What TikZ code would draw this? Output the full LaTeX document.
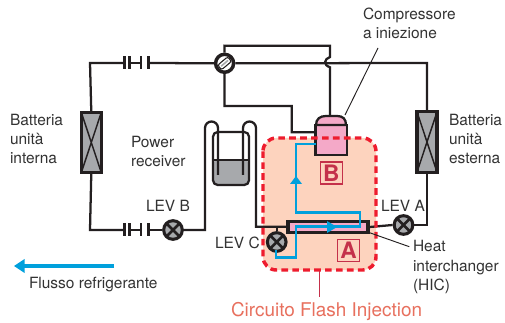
\documentclass[tikz,border=0pt]{standalone}
\usepackage{fontspec}
\setmainfont{TeX Gyre Heros}
\usetikzlibrary{arrows.meta,calc}
\definecolor{wire}{HTML}{231F20}
\definecolor{txt}{HTML}{333333}
\definecolor{pinkc}{HTML}{F4A9C8}
\definecolor{salmon}{HTML}{FDD3BE}
\definecolor{flow}{HTML}{00A0DC}
\definecolor{redd}{HTML}{EE1C2E}
\definecolor{boxred}{HTML}{C4304A}
\definecolor{cirt}{HTML}{E8705E}
\definecolor{greyc}{HTML}{A7A9AC}
\tikzset{
 wr/.style={draw=wire,line width=1.7pt,line join=miter},
 lbl/.style={text=txt,font=\fontsize{11.6}{12}\selectfont,anchor=base west,inner sep=0pt,outer sep=0pt},
 battery/.style={draw=wire,fill=greyc,line width=2.3pt,minimum width=15pt,minimum height=45.2pt,inner sep=0pt,outer sep=0pt},
 levv/.style={circle,draw=wire,fill=greyc,line width=2.3pt,minimum size=14pt,inner sep=0pt},
 bl/.style={draw=flow,line width=1.9pt,line join=miter},
 lettr/.style={draw=boxred,line width=1pt,text=boxred,minimum size=16.5pt,inner sep=0pt,font=\fontsize{17}{17}\selectfont\bfseries},
 thinl/.style={draw=wire,line width=0.7pt},
 capbar/.style={draw=wire,line width=2.2pt},
}
\newcommand{\levx}[1]{\draw[wire,line width=2pt] ($(#1)+(-4.6pt,-4.6pt)$) -- ($(#1)+(4.6pt,4.6pt)$) ($(#1)+(-4.6pt,4.6pt)$) -- ($(#1)+(4.6pt,-4.6pt)$);}
\newcommand{\capil}[3]{% x-centre y
 \draw[capbar] (#1-16.5,#2-6.5) -- (#1-16.5,#2+6.5) (#1-11.5,#2-6.5) -- (#1-11.5,#2+6.5) (#1,#2-6.5) -- (#1,#2+6.5) (#1+7.5,#2-6.5) -- (#1+7.5,#2+6.5) (#1-11.5,#2) -- (#1,#2);}
\begin{document}
\begin{tikzpicture}[x=0.75pt,y=-0.75pt]
\useasboundingbox (0,0) rectangle (505,323);
\fill[white] (0,0) rectangle (505,323);
% flash region
\fill[salmon,rounded corners=10pt] (263,138) rectangle (376,270);
% coordinates
\coordinate (tl) at (90,63); \coordinate (bl) at (90,230);
\coordinate (tr) at (427,63); \coordinate (br) at (427,225);
\node[battery] (batI) at (91.3,142.5) {};
\node[battery] (batE) at (427,142) {};
\draw[wire,line width=1.1pt] (batI.north west) -- (batI.south east) (batI.north east) -- (batI.south west);
\draw[wire,line width=1.1pt] (batE.north west) -- (batE.south east) (batE.north east) -- (batE.south west);
\node[levv] (levB) at (173,230) {}; \levx{levB}
\node[levv] (levA) at (403.5,225) {}; \levx{levA}
\node[levv] (levC) at (276.7,242) {}; \levx{levC}
\node[circle,draw=wire,fill=white,line width=2.6pt,minimum size=13.5pt,inner sep=0pt] (fw) at (224.6,63.3) {};
\draw[wire,line width=0.8pt,rotate around={40:(fw)},fill=white,rounded corners=1.5pt] ($(fw)+(-6.5,-3)$) rectangle ($(fw)+(6.5,3)$);
\fill[greyc,rotate around={40:(fw)}] ($(fw)+(-4.5,-0.8)$) rectangle ($(fw)+(4.5,0.8)$);
% receiver
\path[fill=greyc,rounded corners=3.5pt] (213,160) -- (249,160) -- (249,185) -- (213,185) -- cycle;
\draw[wr,rounded corners=3.5pt] (213,132) rectangle (249,185);
\draw[wr] (213,160) -- (249,160);
% compressor
\coordinate (compT) at (330,116);
\draw[wr,fill=pinkc] (315.5,125) -- (315.5,155) -- (346.7,155) -- (346.7,125) -- cycle;
\draw[wr,fill=pinkc] (316,125) .. controls (316,119) and (320,116) .. (326,116) -- (337,116) .. controls (343,116) and (346,119) .. (346,125) -- cycle;
% wires
\draw[wr] (batI.north) -- (tl) -- (108,63) -- (124,63);
\draw[wr] (148.5,63) -- (fw.west);
\capil{141}{63}{}
\draw[wr] (fw.east) -- (tr) -- (batE.north);
\draw[wr] (batE.south) -- (br) -- (levA.east);
\draw[wr] (batI.south) -- (bl) -- (124,230);
\capil{141}{230}{}
\draw[wr] (148.5,230) -- (levB.west);
\draw[wr] (levB.east) -- (205,230) -- (205,128) arc[start angle=180,end angle=0,x radius=6.5,y radius=-6.5] -- (218,175);
\draw[wr] (243,175) -- (243,128) arc[start angle=180,end angle=0,x radius=6.5,y radius=-6.5] -- (256,226.7) -- (287,226.7);
\draw[wr] (levC.north) -- (276.7,226.7);
\draw[wr] (fw.north) -- (224.4,45.7) -- (330,45.7) -- (330,57) .. controls (324,59) and (323,65) .. (330,67.3) -- (compT);
\draw[wr] (fw.south) -- (224.4,106) -- (291.7,106) -- (291.7,132.3) -- (315.5,132.3);
% HIC
\node[draw=wire,fill=pinkc,line width=2.3pt,minimum width=60pt,minimum height=8pt,inner sep=0pt] (hic) at (328,227) {};
\draw[wr] (hic.east) -- (levA.west);
% blue flow
\coordinate (fa) at (315.5,144);
\draw[bl] (fa) -- (296,144) -- (296,212.7) -- (360,212.7) -- (360,226.7) -- (296,226.7) -- (296,257.3) -- (276,257.3) -- (276,250);
\fill[flow] (296,176) -- (302,184) -- (290,184) -- cycle;
\fill[flow] (337,227) -- (327,221) -- (327,233) -- cycle;
\node[lettr] (B) at (331.3,173) {B};
\node[lettr] (A) at (348.5,250.5) {A};
% dashed border
\draw[redd,line width=2.6pt,rounded corners=10pt,dash pattern=on 5pt off 3.2pt] (263,138) rectangle (376,270);
% pointers
\coordinate (pc) at (378,48);
\draw[thinl] (345,115) -- (pc);
\draw[thinl] (366.7,231.7) -- (409.3,246.7);
\draw[draw=boxred,line width=0.7pt] (319,271) -- (319,297);
% flow legend
\coordinate (legA) at (114,266); \coordinate (legB) at (14,266);
\draw[flow,line width=3pt,-{Triangle[length=8pt,width=10pt]}] (legA) -- (legB);
% labels
\node[lbl] (t1) at (10,126) {Batteria};
\node[lbl] (t2) at (10,145) {unità};
\node[lbl] (t3) at (10,164) {interna};
\node[lbl] (t4) at (449,126) {Batteria};
\node[lbl] (t5) at (449,145) {unità};
\node[lbl] (t6) at (449,164) {esterna};
\node[lbl] (t7) at (131,148) {Power};
\node[lbl] (t8) at (131,167) {receiver};
\node[lbl] (t9) at (146,212) {LEV B};
\node[lbl] (t10) at (215,248) {LEV C};
\node[lbl] (t11) at (381,212) {LEV A};
\node[lbl] (t12) at (363,20) {Compressore};
\node[lbl] (t13) at (363,39) {a iniezione};
\node[lbl] (t14) at (413,252) {Heat};
\node[lbl] (t15) at (413,271) {interchanger};
\node[lbl] (t16) at (413,290) {(HIC)};
\node[lbl] (t17) at (29,288) {Flusso refrigerante};
\node[lbl,text=cirt,font=\fontsize{14.2}{14}\selectfont] (t18) at (231,316) {Circuito Flash Injection};
\end{tikzpicture}
\end{document}
